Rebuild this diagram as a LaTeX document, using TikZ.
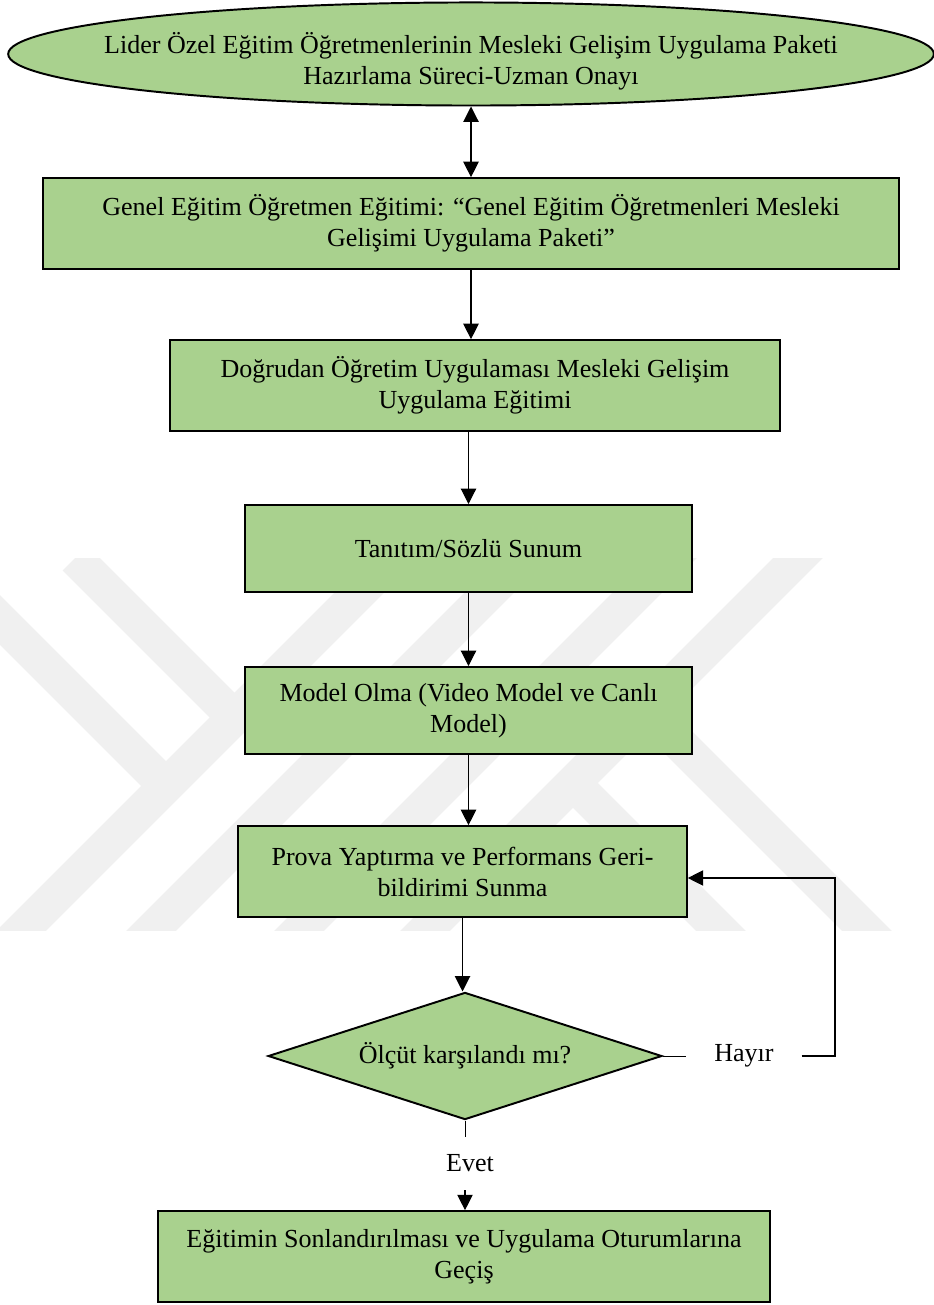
\documentclass[tikz,border=0pt]{standalone}
\usepackage{fontspec}
\setmainfont{Liberation Serif}
\usepackage{xcolor}
\usepackage{tikz}
\usetikzlibrary{positioning,shapes.geometric,arrows.meta}
\definecolor{kutuyesil}{RGB}{169,209,142}
\definecolor{filigran}{RGB}{240,240,240}

\begin{document}
\begin{tikzpicture}[x=0.0162cm,y=-0.0162cm,font=\fontsize{12}{14.3}\selectfont]
			\tikzset{surec kutu/.style={draw,line width=0.9pt,fill=kutuyesil,rectangle,minimum width=#1,minimum height=1.47cm,inner sep=0pt,align=center},
				karar/.style={draw,line width=0.9pt,fill=kutuyesil,diamond,aspect=3.13,minimum width=6.38cm,minimum height=2.06cm,inner sep=0pt,align=center},
				baslangic/.style={draw,line width=0.9pt,fill=kutuyesil,ellipse,minimum width=15cm,minimum height=1.67cm,inner sep=0pt},
				ok/.style={-{Triangle[length=0.25cm,width=0.25cm]},line width=0.5pt},
				cift ok/.style={{Triangle[length=0.25cm,width=0.25cm]}-{Triangle[length=0.25cm,width=0.25cm]},line width=0.5pt},
				bant/.style={draw=filigran,line width=0.57cm}}
			\useasboundingbox (0,0) rectangle (933,1305);
			\begin{scope}
				\clip (0,558) rectangle (933,930);
				\draw [bant] (75,558) -- (245,728);
				\draw [bant] (-30,590) -- (170,790);
				\draw [bant] (-30,982) -- (424,528);
				\draw [bant] (100,982) -- (554,528);
				\draw [bant] (260,970) -- (702,528);
				\draw [bant] (386,970) -- (828,528);
				\draw [bant] (646,710) -- (900,964);
				\draw [bant] (573,783) -- (760,970);
			\end{scope}
			\node [baslangic] (onay) at (471,54) {};
			\node [align=center] (onayyazi) at (471,61) {Lider Özel Eğitim Öğretmenlerinin Mesleki Gelişim Uygulama Paketi\\Hazırlama Süreci-Uzman Onayı};
			\node [surec kutu=13.87cm] (genel) at (471,223.5) {Genel Eğitim Öğretmen Eğitimi: “Genel Eğitim Öğretmenleri Mesleki\\Gelişimi Uygulama Paketi”};
			\node [surec kutu=9.88cm] (dogrudan) at (475,385.5) {Doğrudan Öğretim Uygulaması Mesleki Gelişim\\Uygulama Eğitimi};
			\node [surec kutu=7.24cm,minimum height=1.41cm] (tanitim) at (468.5,548.5) {Tanıtım/Sözlü Sunum};
			\node [surec kutu=7.24cm,minimum height=1.41cm] (model) at (468.5,710.5) {Model Olma (Video Model ve Canlı\\Model)};
			\node [surec kutu=7.27cm] (prova) at (462.5,871.5) {Prova Yaptırma ve Performans Geri-\\bildirimi Sunma};
			\node [karar] (olcut) at (465,1056) {Ölçüt karşılandı mı?};
			\node [inner sep=0pt,minimum width=1.85cm] (hayir) at (744,1056) {Hayır};
			\node [inner sep=0pt,minimum height=0.86cm] (evet) at (470,1163.5) {Evet};
			\node [surec kutu=9.91cm] (son) at (464,1256.5) {Eğitimin Sonlandırılması ve Uygulama Oturumlarına\\Geçiş};
			\coordinate (donus) at (835,878);
			\draw [cift ok] (onay) -- (genel);
			\draw [ok] (genel.south) -- (genel.south |- dogrudan.north);
			\draw [ok] (tanitim.north |- dogrudan.south) -- (tanitim.north);
			\draw [ok] (tanitim.south) -- (tanitim.south |- model.north);
			\draw [ok] (model.south) -- (model.south |- prova.north);
			\draw [ok] (prova.south) -- (prova.south |- olcut.north);
			\draw (olcut.east) -- (hayir.west);
			\draw [ok] (hayir.east) -- (hayir.east -| donus) -- (donus) -- (donus -| prova.east);
			\draw (olcut.south) -- (olcut.south |- evet.north);
			\draw [ok] (olcut.south |- evet.south) -- (olcut.south |- son.north);
		\end{tikzpicture}
\end{document}
